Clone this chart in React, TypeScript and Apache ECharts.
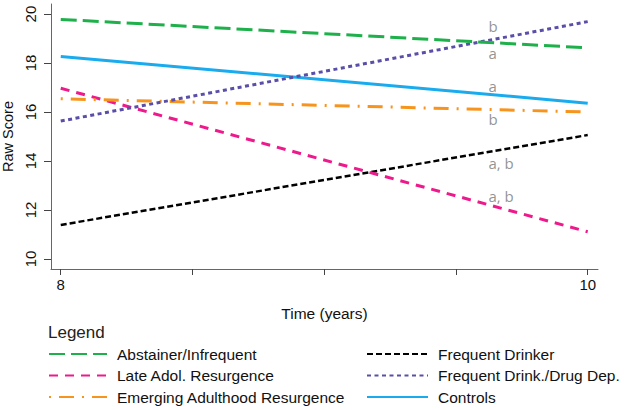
import React, { useEffect, useRef } from "react";
import * as echarts from "echarts";

const years = [8, 10];
const abstainer = [19.78, 18.62];
const lateAdol = [16.97, 11.11];
const emerging = [16.54, 16.0];
const frequent = [11.39, 15.06];
const drugDep = [15.63, 19.69];
const controls = [18.27, 16.36];

const yTicks = [10, 12, 14, 16, 18, 20];
const xTicks = [8, 8.5, 9, 9.5, 10];
const xLabels = [8, 10];

const annotX = 9.623;
const annotations = [
  { name: "b", y: 19.51 },
  { name: "a", y: 18.4 },
  { name: "a", y: 17.06 },
  { name: "b", y: 15.7 },
  { name: "a, b", y: 13.93 },
  { name: "a, b", y: 12.58 },
];

const FONT = "Liberation Sans, Arial, sans-serif";

export default function App() {
  const ref = useRef<HTMLDivElement>(null);
  useEffect(() => {
    if (!ref.current) return;
    const chart = echarts.init(ref.current, null, { renderer: "svg" });
    const mk = (name: string, vals: number[], color: string, dash: any, width = 3, offset = 0) => ({
      name,
      type: "line",
      symbol: "none",
      data: years.map((x, i) => [x, vals[i]]),
      lineStyle: { color, width, type: dash, dashOffset: offset },
      itemStyle: { color },
    });
    const legendBase = {
      orient: "vertical",
      top: 346,
      itemHeight: 16,
      itemGap: 5.5,
      padding: 0,
      itemStyle: { opacity: 0 },
      textStyle: { fontSize: 15.5, color: "#111", padding: [0, 0, 0, 5], fontFamily: FONT },
    };
    chart.setOption({
      animation: false,
      textStyle: { fontFamily: FONT },
      title: {
        text: "Legend",
        left: 48,
        top: 324,
        padding: 0,
        textStyle: { fontSize: 17, fontWeight: "normal", color: "#222", fontFamily: FONT },
      },
      grid: { left: 51, right: 26, top: 4, bottom: 141, containLabel: false, outerBoundsMode: "none" },
      xAxis: {
        type: "value",
        min: 7.963,
        max: 10.039,
        name: "Time (years)",
        nameLocation: "middle",
        nameGap: 36,
        nameTextStyle: { fontSize: 15.5, color: "#111" },
        splitLine: { show: false },
        axisLine: { lineStyle: { color: "#666", width: 1 } },
        axisTick: { customValues: xTicks, length: 6, lineStyle: { color: "#444" } },
        axisLabel: { customValues: xLabels, fontSize: 15, color: "#111", margin: 8 },
      },
      yAxis: {
        type: "value",
        min: 9.59,
        max: 20.41,
        name: "Raw Score",
        nameLocation: "middle",
        nameGap: 28,
        nameTextStyle: { fontSize: 14.5, color: "#111" },
        splitLine: { show: false },
        axisLine: { show: true, lineStyle: { color: "#666", width: 1 } },
        axisTick: { show: true, customValues: yTicks, length: 7, lineStyle: { color: "#444" } },
        axisLabel: { customValues: yTicks, fontSize: 15, color: "#111", rotate: 90, margin: 13 },
      },
      legend: [
        {
          ...legendBase,
          left: 48,
          itemWidth: 58,
          data: ["Abstainer/Infrequent", "Late Adol. Resurgence", "Emerging Adulthood Resurgence"],
        },
        {
          ...legendBase,
          left: 366,
          itemWidth: 61,
          data: ["Frequent Drinker", "Frequent Drink./Drug Dep.", "Controls"],
        },
      ],
      series: [
        mk("Frequent Drinker", frequent, "#000000", [6, 3], 2.5),
        mk("Late Adol. Resurgence", lateAdol, "#ee1a8c", [9, 7], 3),
        mk("Emerging Adulthood Resurgence", emerging, "#f7941d", [15, 8, 2, 8], 3, 23),
        mk("Controls", controls, "#1aabee", "solid", 3),
        mk("Frequent Drink./Drug Dep.", drugDep, "#5a4fa8", [4, 3.5], 3),
        mk("Abstainer/Infrequent", abstainer, "#1eb04a", [16, 6], 3),
        {
          name: "annotations",
          type: "scatter",
          symbolSize: 0,
          silent: true,
          data: annotations.map((a) => ({ name: a.name, value: [annotX, a.y] })),
          label: {
            show: true,
            position: "inside",
            align: "left",
            formatter: (p: any) => p.name,
            color: "#777",
            fontSize: 15,
            fontFamily: "Open Sans, sans-serif",
          },
        },
      ],
    });
    return () => chart.dispose();
  }, []);
  return (
    <div
      ref={ref}
      style={{ position: "fixed", left: 0, top: 0, width: 624, height: 410, background: "#fff" }}
    />
  );
}
